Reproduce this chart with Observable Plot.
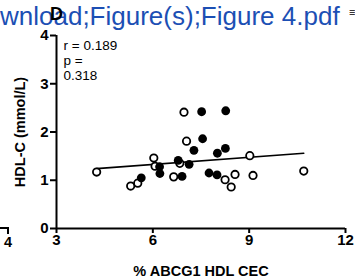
<!DOCTYPE html>
<html><head><meta charset="utf-8">
<script src="https://cdn.jsdelivr.net/npm/d3@7"></script>
<script src="https://cdn.jsdelivr.net/npm/@observablehq/plot@0.6"></script>
<style>
html,body{margin:0;padding:0;background:#fff;}
#wrap{position:relative;width:355px;height:277px;overflow:hidden;font-family:"Liberation Sans",Arial,sans-serif;}
#chart{position:absolute;left:0;top:0;}
#hdr{position:absolute;left:0;top:3px;font-size:26px;color:#1c4fb4;white-space:nowrap;line-height:1;}
#panel{position:absolute;left:50px;top:5px;font-size:18px;font-weight:bold;color:#000;line-height:1;}
#edge{position:absolute;left:349px;top:7px;font-size:11px;color:#000;line-height:1;}
#nb4{position:absolute;left:4px;top:235px;font-size:14.5px;font-weight:bold;line-height:1;}
#nbline{position:absolute;left:0;top:227px;width:7px;height:5px;border-top:2px solid #000;border-right:2px solid #000;}
g[aria-label="x-axis tick label"], g[aria-label="y-axis tick label"]{font-weight:bold;font-size:15px;}
g[aria-label="x-axis label"], g[aria-label="y-axis label"]{font-weight:bold;font-size:14.5px;}
</style></head>
<body><div id="wrap">
<div id="chart"></div>
<div id="hdr"></div>
<div id="panel">D</div>
<div id="edge">≡</div>
<div id="nbline"></div>
<div id="nb4">4</div>
</div>
<script>
const headerText = "wnload;Figure(s);Figure 4.pdf";
const xLabel = "% ABCG1 HDL CEC";
const yLabel = "HDL-C (mmol/L)";
const xTicks = [3, 6, 9, 12];
const yTicks = [0, 1, 2, 3, 4];
const statsLines = ["r = 0.189", "p =", "0.318"];

const openX = [4.25, 5.31, 5.53, 6.03, 6.07, 6.65, 6.84, 6.97, 7.05, 8.25, 8.44, 8.56, 9.02, 9.12, 10.70];
const openY = [1.17, 0.88, 0.94, 1.46, 1.29, 1.07, 1.35, 2.41, 1.81, 1.01, 0.86, 1.12, 1.51, 1.10, 1.19];
const filledX = [5.64, 6.21, 6.22, 6.79, 6.91, 7.13, 7.28, 7.52, 7.55, 7.75, 8.00, 8.01, 8.26, 8.27];
const filledY = [1.05, 1.28, 1.14, 1.41, 1.08, 1.33, 1.62, 2.42, 1.86, 1.15, 1.11, 1.56, 1.66, 2.44];

const openPts = openX.map((x, i) => ({x, y: openY[i]}));
const filledPts = filledX.map((x, i) => ({x, y: filledY[i]}));
const allPts = openPts.concat(filledPts);

const chart = Plot.plot({
  width: 355, height: 277,
  marginLeft: 56, marginRight: 10, marginTop: 35, marginBottom: 49,
  style: {fontFamily: "'Liberation Sans', Arial, sans-serif", background: "transparent", overflow: "visible", color: "#000"},
  x: {domain: [3, 12]},
  y: {domain: [0, 4]},
  marks: [
    Plot.axisX({ticks: xTicks, tickFormat: "d", tickSize: 5, tickPadding: 1, strokeWidth: 2, label: xLabel, labelAnchor: "center", labelOffset: 47, labelArrow: "none"}),
    Plot.axisY({ticks: yTicks, tickFormat: "d", tickSize: 6, tickPadding: 2, strokeWidth: 2, label: yLabel, labelAnchor: "center", labelOffset: 42, labelArrow: "none"}),
    Plot.ruleY([0], {strokeWidth: 2}),
    Plot.ruleX([3], {strokeWidth: 2}),
    Plot.linearRegressionY(allPts, {x: "x", y: "y", ci: 0, stroke: "#000", strokeWidth: 1.6}),
    Plot.dot(openPts, {x: "x", y: "y", r: 3.7, stroke: "#000", strokeWidth: 1.8, fill: "#fff"}),
    Plot.dot(filledPts, {x: "x", y: "y", r: 4.4, fill: "#000"}),
    Plot.text([statsLines.join("\n")], {frameAnchor: "top-left", dx: 7, dy: 4, lineAnchor: "top", textAnchor: "start", fontSize: 13.5, lineHeight: 1.1, fill: "#000"})
  ]
});
document.getElementById("chart").appendChild(chart);
document.getElementById("hdr").textContent = headerText;
</script>
</body></html>
